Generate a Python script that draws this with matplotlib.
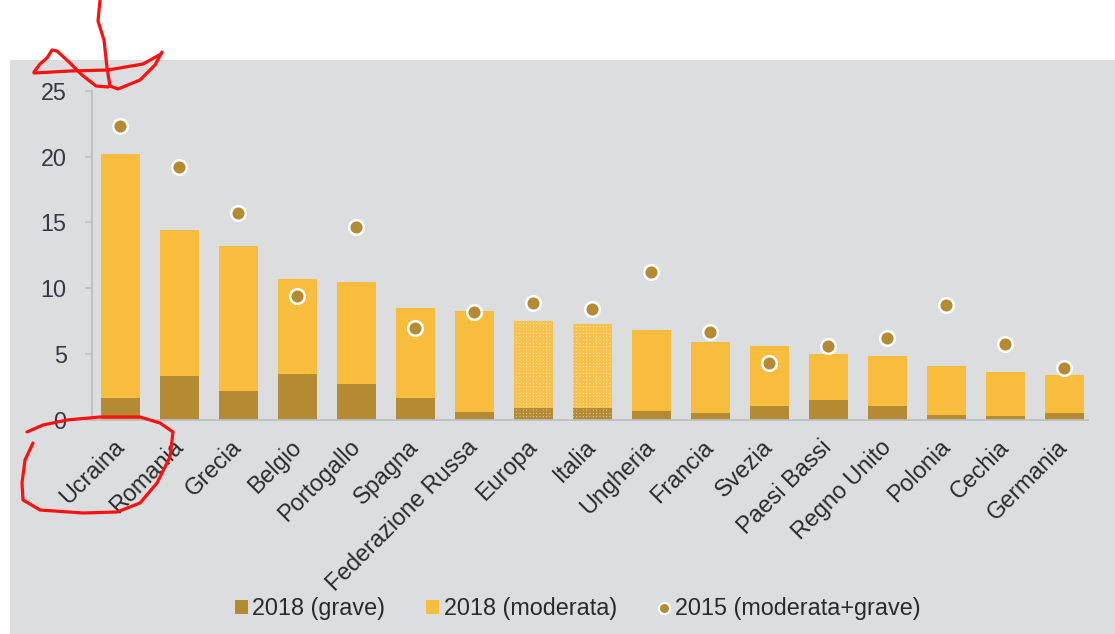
import matplotlib
matplotlib.use("Agg")
import matplotlib.pyplot as plt
from matplotlib.patches import Rectangle, Patch
from matplotlib.lines import Line2D
from matplotlib.transforms import Affine2D
import numpy as np

# ---- data -------------------------------------------------------------
paesi = ["Ucraina", "Romania", "Grecia", "Belgio", "Portogallo", "Spagna",
         "Federazione Russa", "Europa", "Italia", "Ungheria", "Francia",
         "Svezia", "Paesi Bassi", "Regno Unito", "Polonia", "Cechia",
         "Germania"]
totale_2018 = [20.2, 14.4, 13.2, 10.7, 10.45, 8.5, 8.3, 7.5, 7.3, 6.8, 5.9,
               5.6, 5.0, 4.85, 4.1, 3.65, 3.45]
grave_2018 = [1.7, 3.35, 2.2, 3.5, 2.75, 1.65, 0.6, 0.9, 0.9, 0.7, 0.55,
              1.05, 1.55, 1.1, 0.4, 0.3, 0.55]
totale_2015 = [22.35, 19.2, 15.7, 9.45, 14.65, 7.0, 8.2, 8.85, 8.45, 11.2,
               6.7, 4.35, 5.65, 6.2, 8.7, 5.75, 3.95]
aggregati = ["Europa", "Italia"]
yticks = [0, 5, 10, 15, 20, 25]
legend_labels = ["2018 (grave)", "2018 (moderata)", "2015 (moderata+grave)"]

moderata_2018 = [t - g for t, g in zip(totale_2018, grave_2018)]

# ---- style ------------------------------------------------------------
C_GRAVE = "#B48A33"
C_MOD = "#F8BD3C"
C_PANEL = "#DCDDDF"
C_AXIS = "#BDBEC0"
C_TEXT = "#2A2A2A"
FS = 16.8

plt.rcParams["font.family"] = ["Liberation Sans", "DejaVu Sans"]
plt.rcParams["hatch.linewidth"] = 1.6

W, H = 1115, 634
fig = plt.figure(figsize=(W / 100, H / 100), dpi=100)
fig.patch.set_facecolor("white")

# grey panel behind the chart
fig.patches.append(Rectangle((10 / W, 0), 1 - 10 / W, 1 - 60 / H,
                             transform=fig.transFigure, facecolor=C_PANEL,
                             edgecolor="none", zorder=-5))

ax = fig.add_axes([91.7 / W, 1 - 420 / H, (1088 - 91.7) / W, (420 - 90.7) / H])
ax.set_facecolor("none")
ax.set_zorder(2)

x = np.arange(len(paesi))
bw = 0.66
for i, p in enumerate(paesi):
    if p in aggregati:
        # aggregate rows are drawn with a light checked fill
        ax.bar(x[i], grave_2018[i], bw, color="#E9D8B0", edgecolor=C_GRAVE,
               hatch="+++++", linewidth=0, zorder=2)
        ax.bar(x[i], moderata_2018[i], bw, bottom=grave_2018[i],
               color="#FDEBC4", edgecolor="#F7C14C", hatch="+++++",
               linewidth=0, zorder=2)
    else:
        ax.bar(x[i], grave_2018[i], bw, color=C_GRAVE, linewidth=0, zorder=2)
        ax.bar(x[i], moderata_2018[i], bw, bottom=grave_2018[i], color=C_MOD,
               linewidth=0, zorder=2)

ax.plot(x, totale_2015, linestyle="none", marker="o", markersize=10.5,
        markerfacecolor=C_GRAVE, markeredgecolor="white", markeredgewidth=1.8,
        zorder=3)

ax.set_xlim(-0.488, 16.40)
ax.set_ylim(0, 25)
ax.set_yticks(yticks)
ax.set_yticklabels([str(v) for v in yticks])
ax.set_xticks(x)
ax.set_xticklabels(paesi, rotation=45, ha="right", va="center",
                   rotation_mode="anchor")

for s in ["top", "right"]:
    ax.spines[s].set_visible(False)
for s in ["left", "bottom"]:
    ax.spines[s].set_color(C_AXIS)
    ax.spines[s].set_linewidth(1.3)

ax.tick_params(axis="y", direction="out", length=5, width=1.1, color=C_AXIS,
               pad=13, labelsize=FS, labelcolor="#333A44")
ax.tick_params(axis="x", length=0, pad=17, labelsize=FS, labelcolor=C_TEXT)

# legend
handles = [Patch(facecolor=C_GRAVE, edgecolor="none"),
           Patch(facecolor=C_MOD, edgecolor="none"),
           Line2D([], [], linestyle="none", marker="o", markersize=8,
                  markerfacecolor=C_GRAVE, markeredgecolor="white",
                  markeredgewidth=1.5)]
fig.legend(handles, legend_labels, loc="center", ncol=3,
           bbox_to_anchor=(578 / W, 1 - 609 / H), frameon=False,
           fontsize=FS, handlelength=0.55, handleheight=0.55,
           handletextpad=0.2, columnspacing=1.75, labelcolor=C_TEXT)

# red freehand pen marks (pixel coordinates, origin top-left)
pix = Affine2D().scale(1 / W, -1 / H).translate(0, 1) + fig.transFigure
strokes = [
    [(100, 0), (98, 21), (104, 40), (107, 68), (110, 86), (118, 89),
     (140, 80), (155, 65), (162, 52)],
    [(34, 72), (40, 64), (47, 58), (52, 50), (57, 51), (70, 63), (82, 75),
     (96, 86), (108, 87)],
    [(34, 73), (70, 71), (108, 70), (143, 64), (161, 54)],
    [(27, 432), (43, 425), (67, 420), (100, 417), (140, 417), (160, 423),
     (173, 432), (170, 457), (157, 483), (140, 503), (117, 512), (83, 513),
     (40, 510), (23, 500), (22, 483), (25, 460), (33, 443)],
]
for st in strokes:
    xs, ys = zip(*st)
    fig.add_artist(Line2D(xs, ys, transform=pix, color="#FF1010",
                          linewidth=2.3, solid_capstyle="round",
                          solid_joinstyle="round", zorder=10))

fig.savefig("out.png", dpi=100, facecolor=fig.get_facecolor())
